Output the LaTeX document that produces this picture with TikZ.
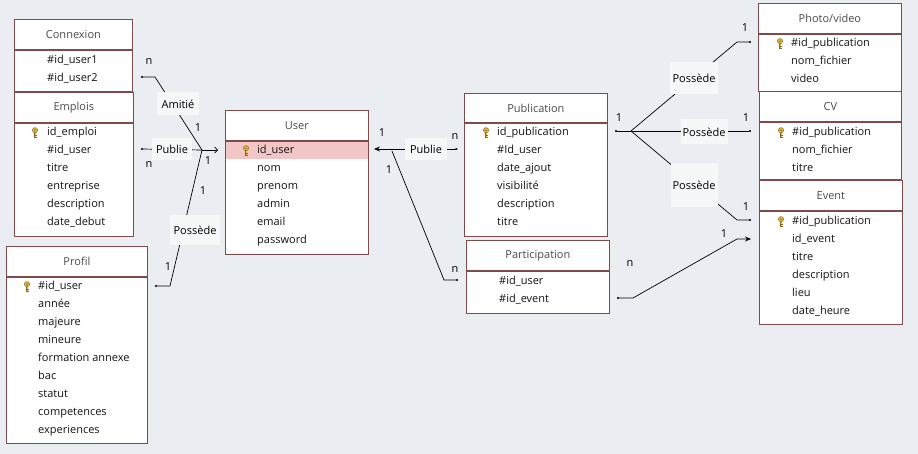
\documentclass[tikz,border=0pt]{standalone}
\usepackage{fontspec}
\setmainfont{Open Sans}
\usetikzlibrary{arrows.meta,calc}
\definecolor{bgcol}{HTML}{EAEDF1}
\definecolor{tabline}{HTML}{7E4A4A}
\definecolor{headtext}{HTML}{4A4A4A}
\definecolor{fieldtext}{HTML}{141414}
\definecolor{lblfill}{HTML}{F6F7F9}
\definecolor{hilite}{HTML}{F2C6C6}
\definecolor{keygold}{HTML}{E0B840}
\definecolor{keydark}{HTML}{8C6A14}
\newcommand{\tabfont}{\fontsize{11}{13}\selectfont}
\tikzset{
  tabhead/.style={draw=tabline, fill=white, line width=0.8pt, anchor=north west,
    inner sep=0pt, minimum height=30, text=headtext, font=\tabfont},
  tabbody/.style={draw=tabline, fill=white, line width=0.8pt, anchor=north west, inner sep=0pt},
  field/.style={anchor=west, inner sep=0pt, text height=8pt, text depth=2pt,
    text=fieldtext, font=\tabfont},
  lbl/.style={fill=lblfill, inner sep=0pt, font=\tabfont},
  card/.style={inner sep=0pt, font=\tabfont},
  conn/.style={line width=0.7pt, black},
  keyicon/.pic={
    \draw[keydark, fill=keygold, line width=0.5pt] (0,-2.6) circle[radius=2.6pt];
    \fill[keydark] (0,-2.6) circle[radius=0.8pt];
    \draw[keydark, line width=1.6pt] (0,0) -- (0,5.5);
    \draw[keygold, line width=0.7pt] (0,0.3) -- (0,5.2);
    \draw[keydark, line width=0.6pt] (0,3) -- (1.8,3) (0,5) -- (1.8,5);
  },
}
\begin{document}
\begin{tikzpicture}[x=1pt,y=-1pt]
  \useasboundingbox (0,0) rectangle (918,454);
  \fill[bgcol] (0,0) rectangle (918,454);

  % Connexion
  \node[tabhead, minimum width=118] (cnxh) at (14,19) {Connexion};
  \node[tabbody, minimum width=118, minimum height=41] (cnxb) at (cnxh.south west) {};
  \foreach \f [count=\i from 0] in {\#id\_user1,\#id\_user2}
    \node[field] (cnx-\i) at ($(cnxb.north west)+(33,11+18*\i)$) {\f};

  % Emplois
  \node[tabhead, minimum width=119] (empth) at (14,92) {Emplois};
  \node[tabbody, minimum width=119, minimum height=113] (emptb) at (empth.south west) {};
  \pic at ($(emptb.north west)+(21,10)$) {keyicon};
  \foreach \f [count=\i from 0] in {id\_emploi,\#id\_user,titre,entreprise,description,date\_debut}
    \node[field] (empt-\i) at ($(emptb.north west)+(33,10+18*\i)$) {\f};

  % Profil
  \node[tabhead, minimum width=141] (prfh) at (6,246) {Profil};
  \node[tabbody, minimum width=141, minimum height=166] (prfb) at (prfh.south west) {};
  \pic at ($(prfb.north west)+(21,10)$) {keyicon};
  \foreach \f [count=\i from 0] in {\#id\_user,année,majeure,mineure,formation annexe,bac,statut,competences,experiences}
    \node[field] (prf-\i) at ($(prfb.north west)+(32,10+18*\i)$) {\f};

  % User
  \node[tabhead, minimum width=143] (userh) at (225,110) {User};
  \node[tabbody, minimum width=143, minimum height=113] (userb) at (userh.south west) {};
  \fill[hilite] ($(userb.north west)+(1,1)$) rectangle ($(userb.north east)+(-1,18)$);
  \pic at ($(userb.north west)+(21,10)$) {keyicon};
  \foreach \f [count=\i from 0] in {id\_user,nom,prenom,admin,email,password}
    \node[field] (user-\i) at ($(userb.north west)+(32,10+18*\i)$) {\f};

  % Publication
  \node[tabhead, minimum width=143, minimum height=29] (pubh) at (464,93) {Publication};
  \node[tabbody, minimum width=143, minimum height=113] (pubb) at (pubh.south west) {};
  \pic at ($(pubb.north west)+(22,10)$) {keyicon};
  \foreach \f [count=\i from 0] in {id\_publication,\#Id\_user,date\_ajout,visibilité,description,titre}
    \node[field] (pub-\i) at ($(pubb.north west)+(33,10+18*\i)$) {\f};

  % Participation
  \node[tabhead, minimum width=143] (parth) at (466,240) {Participation};
  \node[tabbody, minimum width=143, minimum height=42] (partb) at (parth.south west) {};
  \foreach \f [count=\i from 0] in {\#id\_user,\#id\_event}
    \node[field] (part-\i) at ($(partb.north west)+(33,11+18*\i)$) {\f};

  % Photo/video
  \node[tabhead, minimum width=143] (photoh) at (758,3) {Photo/video};
  \node[tabbody, minimum width=143, minimum height=57] (photob) at (photoh.south west) {};
  \pic at ($(photob.north west)+(22,10)$) {keyicon};
  \foreach \f [count=\i from 0] in {\#id\_publication,nom\_fichier,video}
    \node[field] (photo-\i) at ($(photob.north west)+(33,10+18*\i)$) {\f};

  % CV
  \node[tabhead, minimum width=142] (cvh) at (759,91) {CV};
  \node[tabbody, minimum width=142, minimum height=57] (cvb) at (cvh.south west) {};
  \pic at ($(cvb.north west)+(22,11)$) {keyicon};
  \foreach \f [count=\i from 0] in {\#id\_publication,nom\_fichier,titre}
    \node[field] (cv-\i) at ($(cvb.north west)+(33,11+18*\i)$) {\f};

  % Event
  \node[tabhead, minimum width=143] (evth) at (759,180) {Event};
  \node[tabbody, minimum width=143, minimum height=113] (evtb) at (evth.south west) {};
  \pic at ($(evtb.north west)+(22,11)$) {keyicon};
  \foreach \f [count=\i from 0] in {\#id\_publication,id\_event,titre,description,lieu,date\_heure}
    \node[field] (evt-\i) at ($(evtb.north west)+(33,11+18*\i)$) {\f};

  % links around User
  \coordinate (jU) at (202,150);
  \coordinate (usera) at (218,150);
  \coordinate (cnxe) at (141,77);
  \coordinate (cnxk) at (155,77);
  \coordinate (empe) at (141,149);
  \coordinate (prfe) at (155,286);
  \coordinate (prfk) at (170,286);
  \draw[conn, {Circle[length=2pt]}-] (cnxe) -- (cnxk) -- (jU);
  \draw[conn, {Circle[length=2pt]}-] (empe) -- (jU);
  \draw[conn, {Circle[length=2pt]}-] (prfe) -- (prfk) -- (jU);
  \draw[conn, -{Straight Barb[length=3pt,width=6pt]}] (jU) -- (usera);

  \coordinate (userr) at (374,149);
  \coordinate (publ) at (458,149);
  \coordinate (userk) at (392,151);
  \coordinate (partk) at (444,280);
  \coordinate (partl) at (458,280);
  \draw[conn, {Stealth[length=6pt,width=5pt]}-{Latex[length=2.5pt,width=2.5pt]}] (userr) -- (publ);
  \draw[conn, -{Circle[length=2pt]}] (userk) -- (partk) -- (partl);

  % links around Publication
  \coordinate (pubr) at (615,131);
  \coordinate (jP) at (631,131);
  \coordinate (photok) at (737,42);
  \coordinate (photol) at (751,42);
  \coordinate (cvl) at (751,131);
  \coordinate (evtk) at (737,220);
  \coordinate (evtl) at (751,220);
  \draw[conn, {Circle[length=2pt]}-] (pubr) -- (jP);
  \draw[conn, -{Circle[length=2pt]}] (jP) -- (photok) -- (photol);
  \draw[conn, -{Circle[length=2pt]}] (jP) -- (cvl);
  \draw[conn, -{Circle[length=2pt]}] (jP) -- (evtk) -- (evtl);

  \coordinate (partr) at (617,298);
  \coordinate (partrk) at (633,298);
  \coordinate (evtk2) at (737,239);
  \coordinate (evtl2) at (751,239);
  \draw[conn, {Circle[length=2pt]}-{Stealth[length=6pt,width=5pt]}] (partr) -- (partrk) -- (evtk2) -- (evtl2);

  % relation labels
  \node[lbl, minimum width=42, minimum height=23] (amitie) at (178,104) {Amitié};
  \node[lbl, minimum width=40, minimum height=22] (publieE) at (172,149) {Publie};
  \node[lbl, minimum width=50, minimum height=30] (possP) at (195,230) {Possède};
  \node[lbl, minimum width=42, minimum height=22] (publieP) at (426,149) {Publie};
  \node[lbl, minimum width=48, minimum height=32] (possPh) at (694,78) {Possède};
  \node[lbl, minimum width=47, minimum height=25] (possCV) at (704,132) {Possède};
  \node[lbl, minimum width=47, minimum height=44] (possEv) at (694,185) {Possède};

  % cardinalities
  \node[card] (amitie-n) at (149,62) {n};
  \node[card] (amitie-1) at (198,128) {1};
  \node[card] (publieE-n) at (149,165) {n};
  \node[card] (publieE-1) at (208,161) {1};
  \node[card] (possP-1a) at (203,191) {1};
  \node[card] (possP-1b) at (168,267) {1};
  \node[card] (publieP-1) at (382,133) {1};
  \node[card] (publieP-n) at (455,137) {n};
  \node[card] (part-1) at (389,170) {1};
  \node[card] (part-n) at (455,270) {n};
  \node[card] (pub-1) at (619,118) {1};
  \node[card] (possPh-1) at (745,28) {1};
  \node[card] (possCV-1) at (746,118) {1};
  \node[card] (possEv-1) at (746,207) {1};
  \node[card] (partE-n) at (630,264) {n};
  \node[card] (partE-1) at (724,234) {1};
\end{tikzpicture}
\end{document}
